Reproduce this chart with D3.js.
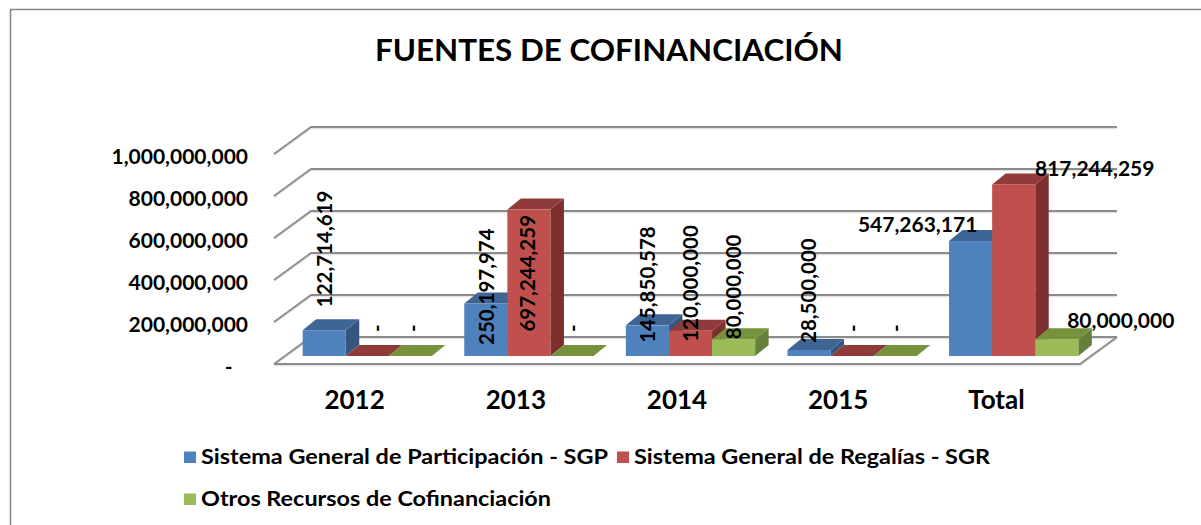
<!DOCTYPE html>
<html><head><meta charset="utf-8">
<script src="https://cdn.jsdelivr.net/npm/d3@7/dist/d3.min.js"></script>
<style>
html,body{margin:0;padding:0;background:#fff;overflow:hidden}
svg{display:block}
text{font-family:Lato,"Liberation Sans",sans-serif;font-weight:700;fill:#000}
</style></head><body>
<svg id="c" width="1201" height="525"></svg>
<script>
const categories = ["2012","2013","2014","2015","Total"];
const seriesNames = ["Sistema General de Participación - SGP","Sistema General de Regalías - SGR","Otros Recursos de Cofinanciación"];
const sgp = [122714619,250197974,145850578,28500000,547263171];
const sgr = [0,697244259,120000000,0,817244259];
const otros = [0,0,80000000,0,80000000];
const yTicks = [0,200000000,400000000,600000000,800000000,1000000000];
const title = "FUENTES DE COFINANCIACIÓN";

const series = [sgp,sgr,otros];
const faces = [
  {front:"#4F81BD",top:"#3E6594",side:"#34567F"},
  {front:"#C0504D",top:"#8F3B39",side:"#7C302E"},
  {front:"#9BBB59",top:"#76923C",side:"#66803A"}
];
const svg = d3.select("#c");
const fmt = d3.format(",");
const depth = {dx:37,dy:27};
const barDepth = {dx:13.5,dy:11};

// frame
svg.append("path").attr("d","M10.5,525V9.5H1201").attr("fill","none").attr("stroke","#868686").attr("stroke-width",1.6);

function fit(sel,w){sel.attr("textLength",w).attr("lengthAdjust","spacingAndGlyphs");return sel;}

fit(svg.append("text").attr("x",375).attr("y",61).attr("font-size",31).text(title),468);

const y = d3.scaleLinear().domain([0,1e9]).range([356,146]);
const floorY = y(0)+8;
const x0 = d3.scaleBand().domain(categories).range([286.5,1094.5]).paddingInner(.2).paddingOuter(.1);
const x1 = d3.scaleBand().domain(d3.range(3)).range([0,x0.bandwidth()]);
const xAxisScale = d3.scaleBand().domain(categories).range([274,1080]);

// walls
const gridG = svg.append("g").attr("fill","none");
yTicks.forEach(t=>{
  const fy=y(t)+8, by=fy-depth.dy;
  const left=274, right=1080+depth.dx;
  gridG.append("path").attr("d",`M${left},${fy}L${left+depth.dx},${by}H${right}`).attr("stroke","#e3e3e3").attr("stroke-width",1.5).attr("transform","translate(0,1.5)");
  gridG.append("path").attr("d",`M${left},${fy}L${left+depth.dx},${by}H${right}`).attr("stroke","#8c8c8c").attr("stroke-width",1.8);
});
gridG.append("path").attr("d",`M274,${floorY}H1080L${1080+depth.dx},${floorY-depth.dy}`).attr("stroke","#e3e3e3").attr("stroke-width",1.5).attr("transform","translate(0,1.5)");
gridG.append("path").attr("d",`M274,${floorY}H1080L${1080+depth.dx},${floorY-depth.dy}`).attr("stroke","#8c8c8c").attr("stroke-width",1.8);

// bars
categories.forEach((c,i)=>{
  const g=svg.append("g");
  series.forEach((s,k)=>{
    const v=s[i], l=x0(c)+x1(k), r=l+x1.bandwidth(), t=y(v), b=y(0), {dx,dy}=barDepth, col=faces[k];
    g.append("path").attr("d",`M${r},${b}L${r+dx},${b-dy}V${t-dy}L${r},${t}Z`).attr("fill",col.side);
    g.append("path").attr("d",`M${l},${t}L${l+dx},${t-dy}H${r+dx}L${r},${t}Z`).attr("fill",col.top);
    if(v>0) g.append("rect").attr("x",l).attr("y",t).attr("width",x1.bandwidth()).attr("height",b-t).attr("fill",col.front);
  });
});

// axes
const yAxisScale = y.copy().range([y(0)+10,y(1e9)+10]);
const ya = svg.append("g").attr("transform","translate(248,0)")
  .call(d3.axisLeft(yAxisScale).tickValues(yTicks).tickSize(0).tickPadding(0).tickFormat(d=>d===0?"-\u00a0\u00a0\u00a0":fmt(d)));
ya.select(".domain").remove();
ya.selectAll("text").attr("font-size",21).style("font-family",'Lato,"Liberation Sans",sans-serif').style("font-weight",700).attr("dy",".35em");
const xa = svg.append("g").attr("transform","translate(0,391)")
  .call(d3.axisBottom(xAxisScale).tickSize(0).tickPadding(0));
xa.select(".domain").remove();
xa.selectAll("text").attr("font-size",26).style("font-family",'Lato,"Liberation Sans",sans-serif').style("font-weight",700).attr("dy",".71em");
xa.selectAll("text").filter(d=>d==="Total").attr("dx",-3);

// rotated data labels: [category index, series index, dx, dy from bar top to label foot]
const rotatedNudges = [[0,0,1,-23],[1,0,1,41.5],[1,1,-1,122],[2,0,0,17.5],[2,1,0,11],[2,2,0,0],[3,0,0,-7],
  [0,1,10,-24],[0,2,2,-24],[1,2,1,-24],[3,1,1,-24],[3,2,1,-24]];
rotatedNudges.forEach(([i,k,dx,dy])=>{
  const v=series[k][i], px=x0(categories[i])+x1(k)+x1.bandwidth()/2+dx, py=y(v)+dy;
  svg.append("text").attr("transform",`translate(${px},${py}) rotate(-90)`).attr("font-size",20.5).attr("dy",".35em").text(v===0?"-":fmt(v));
});
// horizontal labels on the Total group
[[0,-53,-16],[1,81,-16],[2,64,-19]].forEach(([k,dx,dy])=>{
  const v=series[k][4], px=x0("Total")+x1(k)+x1.bandwidth()/2+dx, py=y(v)+dy;
  svg.append("text").attr("x",px).attr("y",py).attr("text-anchor","middle").attr("dy",".35em").attr("font-size",21).text(fmt(v));
});

// legend
const legendSpots=[[184,201,407,457],[617,634,356,457],[184,201,350,499]];
seriesNames.forEach((n,k)=>{
  const [sx,tx,w,cy]=legendSpots[k];
  svg.append("rect").attr("x",sx).attr("y",cy-5.5).attr("width",12).attr("height",11.5).attr("fill",faces[k].front);
  fit(svg.append("text").attr("x",tx).attr("y",cy).attr("dy",".35em").attr("font-size",21).text(n),w);
});
</script>
</body></html>
